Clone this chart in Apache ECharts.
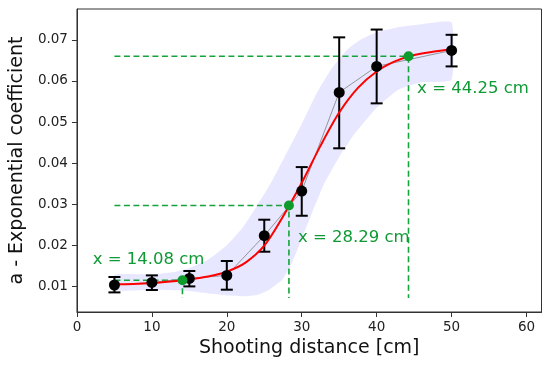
<!DOCTYPE html>
<html><head><meta charset="utf-8">
<script src="https://cdn.jsdelivr.net/npm/echarts@6/dist/echarts.min.js"></script>
<style>html,body{margin:0;padding:0;background:#fff}#c{width:550px;height:372px}</style>
</head><body><div id="c"></div>
<script>
// measured data
const distances = [5, 10, 15, 20, 25, 30, 35, 40, 50];
const meanA = [0.01034, 0.01097, 0.01195, 0.01268, 0.02233, 0.0332, 0.0572, 0.06353, 0.06742];
const errLow = [0.00854, 0.00912, 0.0100, 0.0092, 0.01844, 0.02719, 0.0436, 0.05454, 0.06353];
const errHigh = [0.01229, 0.01268, 0.01375, 0.01618, 0.02623, 0.03903, 0.0706, 0.0725, 0.07122];

// fitted curve
const fitX = [5, 7.5, 10, 12.5, 15, 17.5, 20, 22.5, 25, 27.5, 30, 32.5, 35, 37.5, 40, 42.5, 45, 47.5, 50];
const fitY = [0.0105, 0.0106, 0.0108, 0.0112, 0.0117, 0.0124, 0.0136, 0.0158, 0.0199, 0.0270, 0.0352, 0.0442, 0.0523, 0.0583, 0.0623, 0.0648, 0.0663, 0.0671, 0.0677];

// confidence band
const bandUpX = [5, 10, 13, 15, 17.5, 20, 22, 24, 26, 28, 30, 32, 34, 36, 38, 40, 43, 46, 50];
const bandUp = [0.0128, 0.0129, 0.0135, 0.0145, 0.0165, 0.0200, 0.0240, 0.0295, 0.0355, 0.0425, 0.0495, 0.0570, 0.0630, 0.0675, 0.0702, 0.0718, 0.0731, 0.0738, 0.0742];
const bandLoX = [5, 10, 15, 18, 20, 22.5, 24, 25.5, 27.4, 28.5, 29.6, 31.5, 33, 35, 37, 40, 43, 46, 50];
const bandLo = [0.0091, 0.0092, 0.0089, 0.0082, 0.0078, 0.0076, 0.0079, 0.0090, 0.0116, 0.0150, 0.0197, 0.0285, 0.0350, 0.0415, 0.0470, 0.0535, 0.0580, 0.0597, 0.0603];

// marked thresholds
const markX = [14.08, 28.29, 44.25];
const markY = [0.0115, 0.0297, 0.0660];
const markLabels = ['x = 14.08 cm', 'x = 28.29 cm', 'x = 44.25 cm'];
const labelX = [2.1, 29.5, 45.4];
const labelY = [0.0165, 0.0218, 0.0580];
const guideStartX = 5;
const guideBottomY = 0.0072;

const xTicks = [0, 10, 20, 30, 40, 50, 60];
const yTicks = [0.01, 0.02, 0.03, 0.04, 0.05, 0.06, 0.07];

const FONT = 'DejaVu Sans';
const GREEN = '#16a33c';
const TEXTGREEN = '#0f9a35';

const chart = echarts.init(document.getElementById('c'), null, {renderer: 'canvas'});

const series = [];
// band
series.push({
  type: 'custom', z: 1, silent: true,
  data: [[5, 0.01]],
  renderItem: function (params, api) {
    const pts = [];
    for (let i = 0; i < bandUpX.length; i++) pts.push(api.coord([bandUpX[i], bandUp[i]]));
    for (let i = bandLoX.length - 1; i >= 0; i--) pts.push(api.coord([bandLoX[i], bandLo[i]]));
    return {type: 'polygon', shape: {points: pts, smooth: 0.15}, style: {fill: 'rgba(40,40,255,0.11)'}};
  }
});
// guide lines
for (let k = 0; k < markX.length; k++) {
  series.push({
    type: 'line', z: 2, symbol: 'none', silent: true,
    data: [[guideStartX, markY[k]], [markX[k], markY[k]], [markX[k], guideBottomY]],
    lineStyle: {color: GREEN, width: 1.6, type: [6, 3.5]}
  });
}
// connecting gray line
series.push({
  type: 'line', z: 3, symbol: 'none', silent: true,
  data: distances.map((d, i) => [d, meanA[i]]),
  lineStyle: {color: '#7f7f7f', width: 0.8}
});
// error bars
series.push({
  type: 'custom', z: 4, silent: true,
  data: distances.map((d, i) => [d, errLow[i], errHigh[i]]),
  renderItem: function (params, api) {
    const lo = api.coord([api.value(0), api.value(1)]);
    const hi = api.coord([api.value(0), api.value(2)]);
    const w = 6;
    const st = {stroke: '#000', lineWidth: 2};
    return {type: 'group', children: [
      {type: 'line', shape: {x1: lo[0], y1: lo[1], x2: hi[0], y2: hi[1]}, style: st},
      {type: 'line', shape: {x1: lo[0] - w, y1: lo[1], x2: lo[0] + w, y2: lo[1]}, style: st},
      {type: 'line', shape: {x1: hi[0] - w, y1: hi[1], x2: hi[0] + w, y2: hi[1]}, style: st}
    ]};
  }
});
// fit curve
series.push({
  type: 'line', z: 5, symbol: 'none', silent: true, smooth: 0.3,
  data: fitX.map((x, i) => [x, fitY[i]]),
  lineStyle: {color: '#ff0000', width: 2}
});
// black points
series.push({
  type: 'scatter', z: 6, silent: true, symbolSize: 11,
  data: distances.map((d, i) => [d, meanA[i]]),
  itemStyle: {color: '#000', opacity: 1}
});
// green points
series.push({
  type: 'scatter', z: 7, silent: true, symbolSize: 10,
  data: markX.map((x, i) => [x, markY[i]]),
  itemStyle: {color: '#0f9a2c', opacity: 1}
});
// labels
series.push({
  type: 'custom', z: 8, silent: true,
  data: markX.map((x, i) => [labelX[i], labelY[i], i]),
  renderItem: function (params, api) {
    const p = api.coord([api.value(0), api.value(1)]);
    return {type: 'text', x: p[0], y: p[1], style: {
      text: markLabels[api.value(2)], fill: TEXTGREEN, font: '16.5px "' + FONT + '"',
      textAlign: 'left', textVerticalAlign: 'middle'
    }};
  }
});

chart.setOption({
  animation: false,
  backgroundColor: '#fff',
  grid: {left: 74, right: 8.5, top: 9, bottom: 60, show: true, borderColor: '#333', borderWidth: 1, backgroundColor: 'transparent'},
  xAxis: {
    type: 'value', min: 0, max: 62,
    name: 'Shooting distance [cm]', nameLocation: 'middle', nameGap: 18,
    nameTextStyle: {fontFamily: FONT, fontSize: 19, color: '#111'},
    axisLine: {show: true, lineStyle: {color: '#333', width: 1}},
    axisTick: {show: true, length: 5, customValues: xTicks, lineStyle: {color: '#333'}},
    axisLabel: {customValues: xTicks, fontFamily: FONT, fontSize: 13.5, color: '#222', margin: 8},
    splitLine: {show: false}
  },
  yAxis: {
    type: 'value', min: 0.00377, max: 0.0775,
    name: 'a - Exponential coefficient', nameLocation: 'middle', nameGap: 48,
    nameTextStyle: {fontFamily: FONT, fontSize: 19, color: '#111'},
    axisLine: {show: true, lineStyle: {color: '#333', width: 1}},
    axisTick: {show: true, length: 5, customValues: yTicks, lineStyle: {color: '#333'}},
    axisLabel: {customValues: yTicks, fontFamily: FONT, fontSize: 13.5, color: '#222', margin: 9,
      formatter: v => Number(v).toFixed(2)},
    splitLine: {show: false}
  },
  series: series
});
</script>
</body></html>
